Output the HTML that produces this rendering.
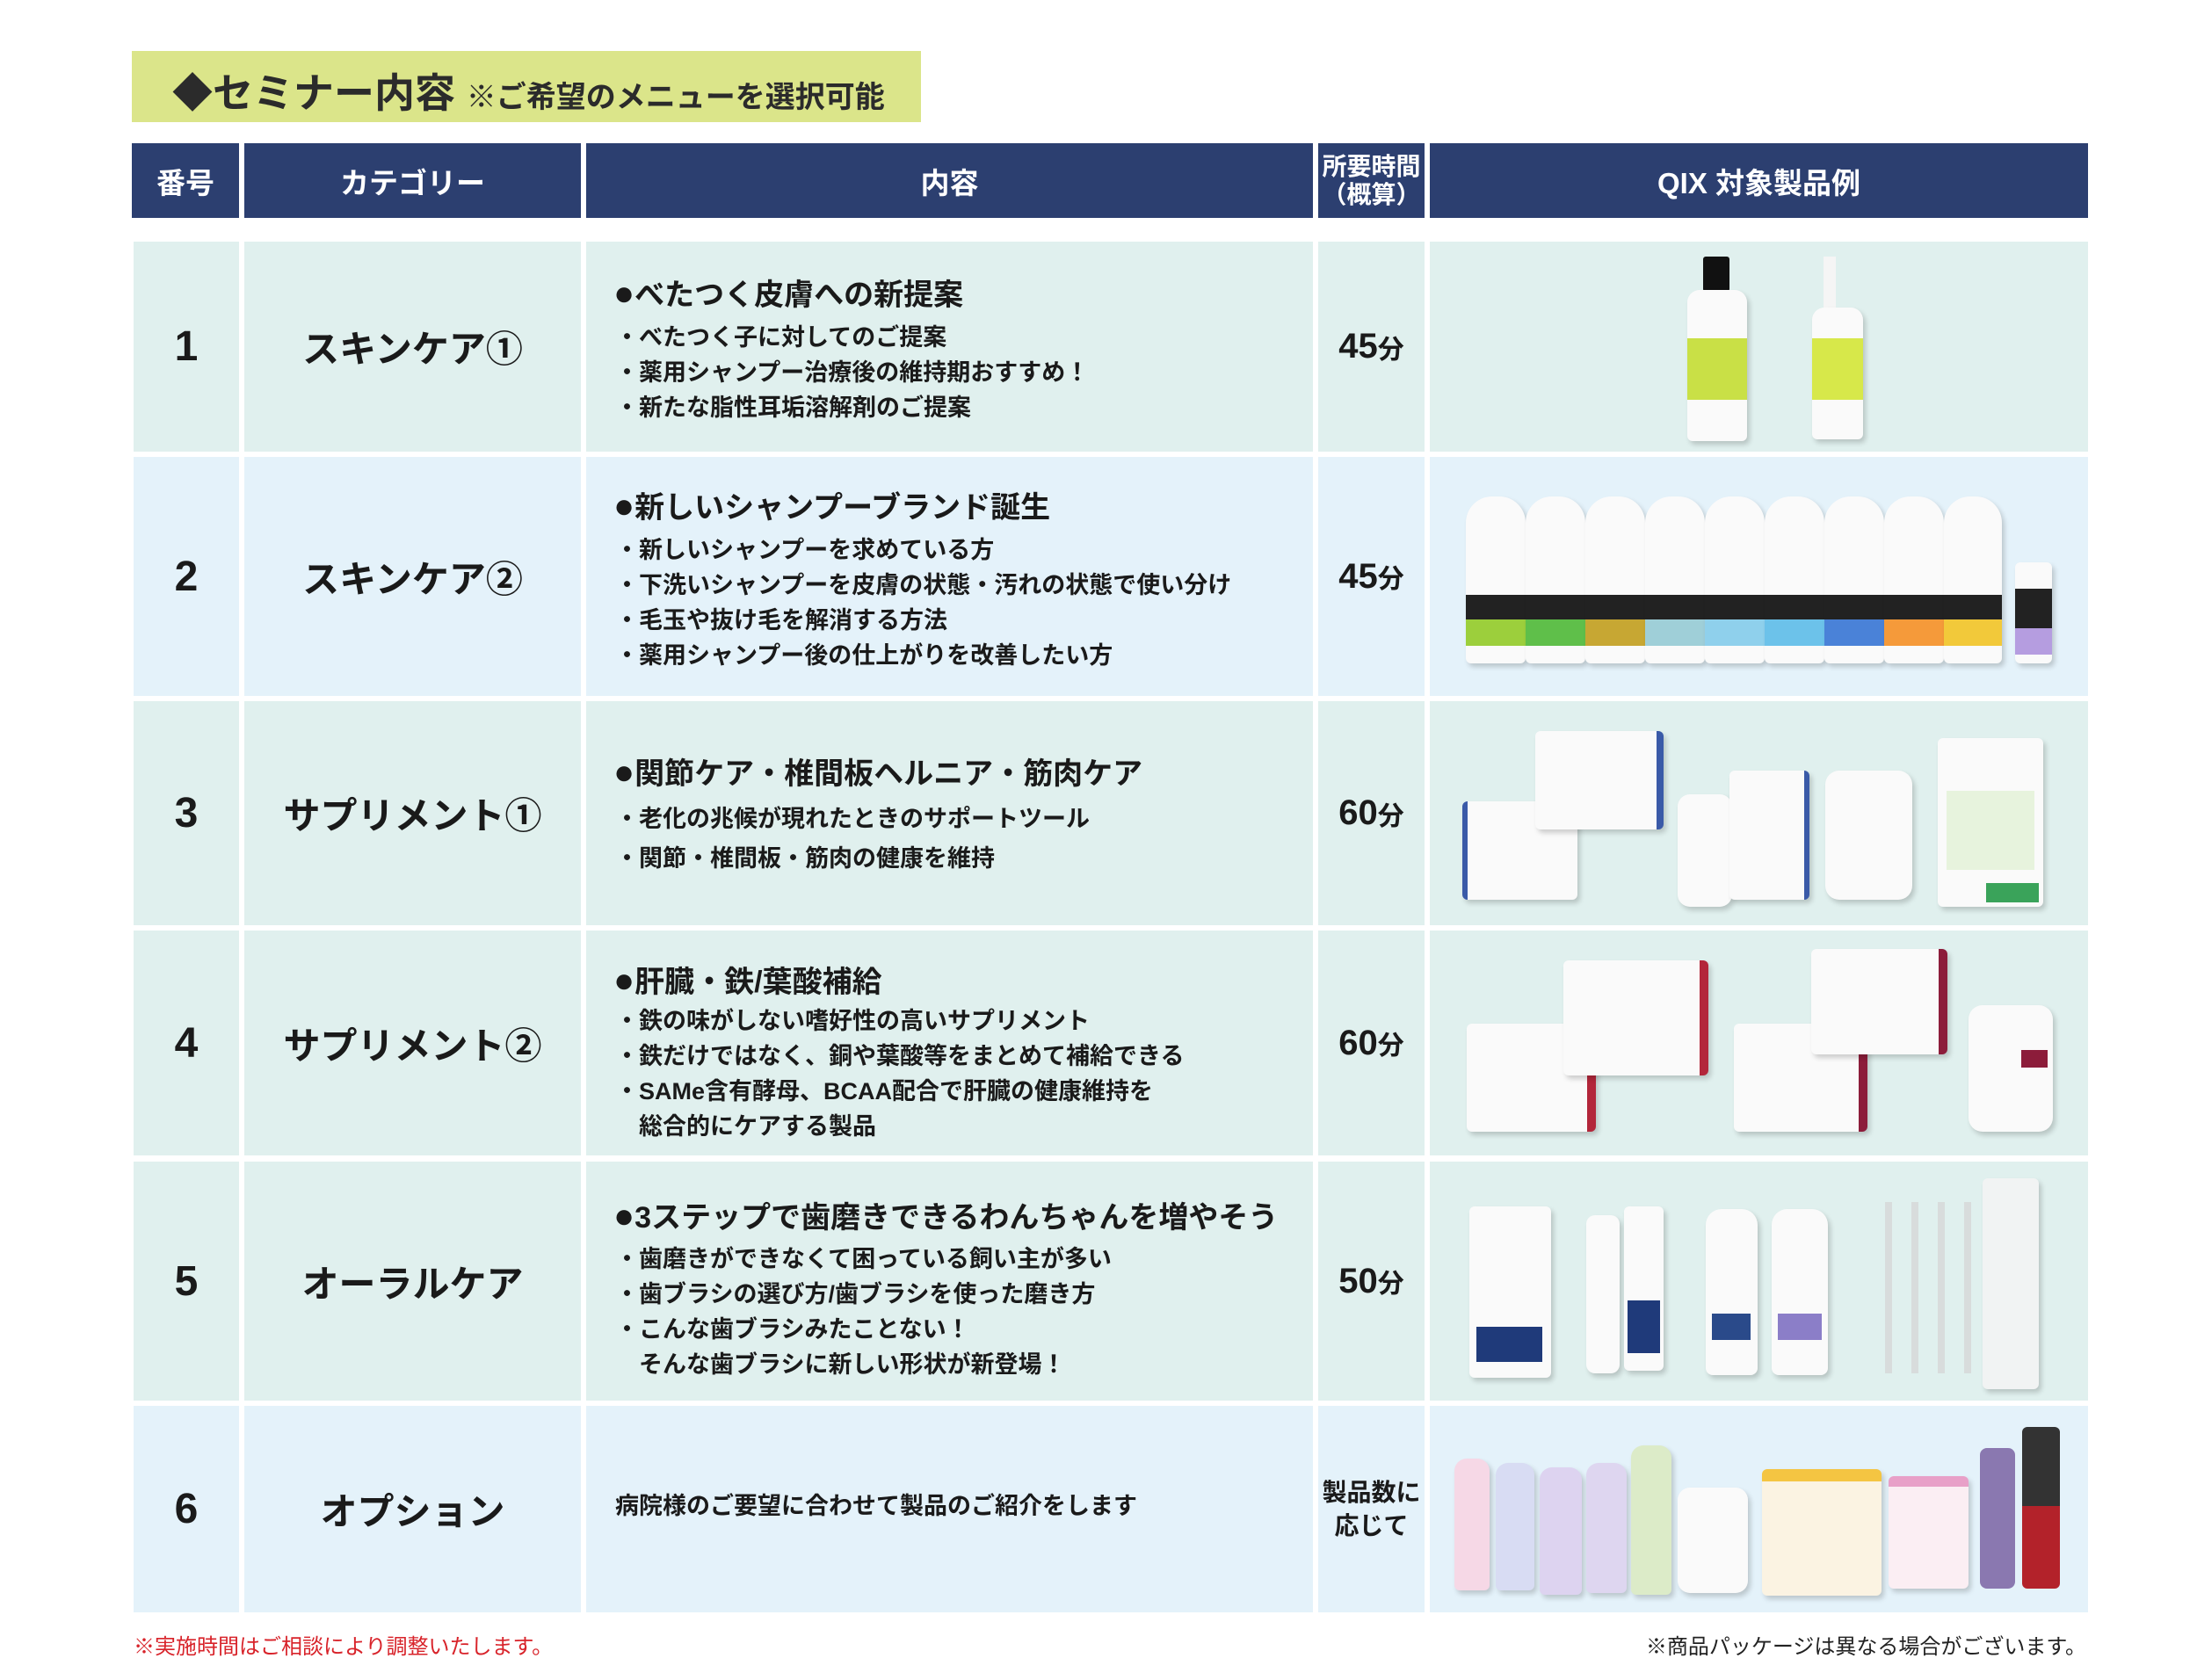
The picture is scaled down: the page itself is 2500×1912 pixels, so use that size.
<!DOCTYPE html>
<html><head><meta charset="utf-8"><style>
*{margin:0;padding:0;box-sizing:border-box}
body{width:2500px;height:1912px;background:#fff;position:relative;overflow:hidden;font-family:"Liberation Sans","Noto Sans CJK JP",sans-serif;color:#1a1a1a}
.a{position:absolute}
.h{background:#2c3f70;color:#fff;font-weight:bold;font-size:33px;display:flex;align-items:center;justify-content:center;text-align:center}
.g{background:#e0f0ee}.b{background:#e4f2fa}
.c{display:flex;align-items:center;justify-content:center;font-weight:bold}
.num{font-size:48px}
.cat{font-size:42px}
.tm{font-size:40px}
.hd{font-size:34px;font-weight:bold;white-space:nowrap}
.hd span{font-size:40px;line-height:34px}
.bl{font-size:27px;font-weight:bold;white-space:nowrap;line-height:40px}
.p{position:absolute;background:#fafafa;box-shadow:3px 4px 6px rgba(0,0,0,.18);border-radius:6px}
</style></head><body>
<div class="a" style="left:150px;top:58px;width:898px;height:81px;background:#dbe58a"></div>
<div class="a" style="left:196px;top:70px;font-size:46px;font-weight:bold;color:#2b2b2b;white-space:nowrap">◆セミナー内容 <span style="font-size:34px">※ご希望のメニューを選択可能</span></div>

<div class="a h" style="left:150px;top:163px;width:122px;height:85px">番号</div>
<div class="a h" style="left:278px;top:163px;width:383px;height:85px">カテゴリー</div>
<div class="a h" style="left:667px;top:163px;width:827px;height:85px">内容</div>
<div class="a h" style="left:1500px;top:163px;width:121px;height:85px;font-size:28px;line-height:32px">所要時間<br>（概算）</div>
<div class="a h" style="left:1627px;top:163px;width:749px;height:85px">QIX 対象製品例</div>

<div class="a g" style="left:152px;top:275px;width:120px;height:239px"></div><div class="a g" style="left:278px;top:275px;width:383px;height:239px"></div><div class="a g" style="left:667px;top:275px;width:827px;height:239px"></div><div class="a g" style="left:1500px;top:275px;width:121px;height:239px"></div><div class="a g" style="left:1627px;top:275px;width:749px;height:239px"></div>
<div class="a b" style="left:152px;top:520px;width:120px;height:272px"></div><div class="a b" style="left:278px;top:520px;width:383px;height:272px"></div><div class="a b" style="left:667px;top:520px;width:827px;height:272px"></div><div class="a b" style="left:1500px;top:520px;width:121px;height:272px"></div><div class="a b" style="left:1627px;top:520px;width:749px;height:272px"></div>
<div class="a g" style="left:152px;top:798px;width:120px;height:255px"></div><div class="a g" style="left:278px;top:798px;width:383px;height:255px"></div><div class="a g" style="left:667px;top:798px;width:827px;height:255px"></div><div class="a g" style="left:1500px;top:798px;width:121px;height:255px"></div><div class="a g" style="left:1627px;top:798px;width:749px;height:255px"></div>
<div class="a g" style="left:152px;top:1059px;width:120px;height:256px"></div><div class="a g" style="left:278px;top:1059px;width:383px;height:256px"></div><div class="a g" style="left:667px;top:1059px;width:827px;height:256px"></div><div class="a g" style="left:1500px;top:1059px;width:121px;height:256px"></div><div class="a g" style="left:1627px;top:1059px;width:749px;height:256px"></div>
<div class="a g" style="left:152px;top:1322px;width:120px;height:272px"></div><div class="a g" style="left:278px;top:1322px;width:383px;height:272px"></div><div class="a g" style="left:667px;top:1322px;width:827px;height:272px"></div><div class="a g" style="left:1500px;top:1322px;width:121px;height:272px"></div><div class="a g" style="left:1627px;top:1322px;width:749px;height:272px"></div>
<div class="a b" style="left:152px;top:1600px;width:120px;height:235px"></div><div class="a b" style="left:278px;top:1600px;width:383px;height:235px"></div><div class="a b" style="left:667px;top:1600px;width:827px;height:235px"></div><div class="a b" style="left:1500px;top:1600px;width:121px;height:235px"></div><div class="a b" style="left:1627px;top:1600px;width:749px;height:235px"></div>

<div class="a c num" style="left:152px;top:275px;width:120px;height:239px">1</div>
<div class="a c cat" style="left:278px;top:275px;width:383px;height:239px">スキンケア①</div>
<div class="a c tm" style="left:1500px;top:275px;width:121px;height:239px">45<span style="font-size:30px">分</span></div>
<div class="a c num" style="left:152px;top:520px;width:120px;height:272px">2</div>
<div class="a c cat" style="left:278px;top:520px;width:383px;height:272px">スキンケア②</div>
<div class="a c tm" style="left:1500px;top:520px;width:121px;height:272px">45<span style="font-size:30px">分</span></div>
<div class="a c num" style="left:152px;top:798px;width:120px;height:255px">3</div>
<div class="a c cat" style="left:278px;top:798px;width:383px;height:255px">サプリメント①</div>
<div class="a c tm" style="left:1500px;top:798px;width:121px;height:255px">60<span style="font-size:30px">分</span></div>
<div class="a c num" style="left:152px;top:1059px;width:120px;height:256px">4</div>
<div class="a c cat" style="left:278px;top:1059px;width:383px;height:256px">サプリメント②</div>
<div class="a c tm" style="left:1500px;top:1059px;width:121px;height:256px">60<span style="font-size:30px">分</span></div>
<div class="a c num" style="left:152px;top:1322px;width:120px;height:272px">5</div>
<div class="a c cat" style="left:278px;top:1322px;width:383px;height:272px">オーラルケア</div>
<div class="a c tm" style="left:1500px;top:1322px;width:121px;height:272px">50<span style="font-size:30px">分</span></div>
<div class="a c num" style="left:152px;top:1600px;width:120px;height:235px">6</div>
<div class="a c cat" style="left:278px;top:1600px;width:383px;height:235px">オプション</div>
<div class="a c" style="left:1500px;top:1600px;width:121px;height:235px;font-size:28px;line-height:38px;text-align:center">製品数に<br>応じて</div>

<div class="a hd" style="left:698px;top:308px"><span>●</span>べたつく皮膚への新提案</div>
<div class="a bl" style="left:700px;top:364px">・べたつく子に対してのご提案<br>・薬用シャンプー治療後の維持期おすすめ！<br>・新たな脂性耳垢溶解剤のご提案</div>
<div class="a hd" style="left:698px;top:550px"><span>●</span>新しいシャンプーブランド誕生</div>
<div class="a bl" style="left:700px;top:606px">・新しいシャンプーを求めている方<br>・下洗いシャンプーを皮膚の状態・汚れの状態で使い分け<br>・毛玉や抜け毛を解消する方法<br>・薬用シャンプー後の仕上がりを改善したい方</div>
<div class="a hd" style="left:698px;top:853px"><span>●</span>関節ケア・椎間板ヘルニア・筋肉ケア</div>
<div class="a bl" style="left:700px;top:910px;line-height:45px">・老化の兆候が現れたときのサポートツール<br>・関節・椎間板・筋肉の健康を維持</div>
<div class="a hd" style="left:698px;top:1090px"><span>●</span>肝臓・鉄/葉酸補給</div>
<div class="a bl" style="left:700px;top:1142px">・鉄の味がしない嗜好性の高いサプリメント<br>・鉄だけではなく、銅や葉酸等をまとめて補給できる<br>・SAMe含有酵母、BCAA配合で肝臓の健康維持を<br>　総合的にケアする製品</div>
<div class="a hd" style="left:698px;top:1358px"><span>●</span>3ステップで歯磨きできるわんちゃんを増やそう</div>
<div class="a bl" style="left:700px;top:1413px">・歯磨きができなくて困っている飼い主が多い<br>・歯ブラシの選び方/歯ブラシを使った磨き方<br>・こんな歯ブラシみたことない！<br>　そんな歯ブラシに新しい形状が新登場！</div>
<div class="a bl" style="left:700px;top:1694px">病院様のご要望に合わせて製品のご紹介をします</div>

<div class="a" style="left:1938px;top:292px;width:30px;height:40px;background:#111;border-radius:3px"></div>
<div class="p" style="left:1920px;top:330px;width:68px;height:172px;border-radius:14px 14px 6px 6px"></div>
<div class="a" style="left:1920px;top:385px;width:68px;height:70px;background:#c9e046"></div>
<div class="a" style="left:2075px;top:292px;width:14px;height:60px;background:#f5f5f5"></div>
<div class="p" style="left:2062px;top:350px;width:58px;height:150px;border-radius:14px 14px 6px 6px"></div>
<div class="a" style="left:2062px;top:385px;width:58px;height:70px;background:#d7e84a"></div>

<div class="a" style="left:1668px;top:565px;width:610px;height:190px">
<div class="p" style="left:0;top:0;width:68px;height:190px;border-radius:30px 30px 6px 6px"></div><div class="a" style="left:0;top:112px;width:68px;height:28px;background:#222"></div><div class="a" style="left:0;top:140px;width:68px;height:30px;background:#9ccf3c"></div>
<div class="p" style="left:68px;top:0;width:68px;height:190px;border-radius:30px 30px 6px 6px"></div><div class="a" style="left:68px;top:112px;width:68px;height:28px;background:#222"></div><div class="a" style="left:68px;top:140px;width:68px;height:30px;background:#5fbf4a"></div>
<div class="p" style="left:136px;top:0;width:68px;height:190px;border-radius:30px 30px 6px 6px"></div><div class="a" style="left:136px;top:112px;width:68px;height:28px;background:#222"></div><div class="a" style="left:136px;top:140px;width:68px;height:30px;background:#c7a733"></div>
<div class="p" style="left:204px;top:0;width:68px;height:190px;border-radius:30px 30px 6px 6px"></div><div class="a" style="left:204px;top:112px;width:68px;height:28px;background:#222"></div><div class="a" style="left:204px;top:140px;width:68px;height:30px;background:#9fcfd8"></div>
<div class="p" style="left:272px;top:0;width:68px;height:190px;border-radius:30px 30px 6px 6px"></div><div class="a" style="left:272px;top:112px;width:68px;height:28px;background:#222"></div><div class="a" style="left:272px;top:140px;width:68px;height:30px;background:#8fd0ec"></div>
<div class="p" style="left:340px;top:0;width:68px;height:190px;border-radius:30px 30px 6px 6px"></div><div class="a" style="left:340px;top:112px;width:68px;height:28px;background:#222"></div><div class="a" style="left:340px;top:140px;width:68px;height:30px;background:#6cc2ea"></div>
<div class="p" style="left:408px;top:0;width:68px;height:190px;border-radius:30px 30px 6px 6px"></div><div class="a" style="left:408px;top:112px;width:68px;height:28px;background:#222"></div><div class="a" style="left:408px;top:140px;width:68px;height:30px;background:#4a82d8"></div>
<div class="p" style="left:476px;top:0;width:68px;height:190px;border-radius:30px 30px 6px 6px"></div><div class="a" style="left:476px;top:112px;width:68px;height:28px;background:#222"></div><div class="a" style="left:476px;top:140px;width:68px;height:30px;background:#f59a3a"></div>
<div class="p" style="left:544px;top:0;width:66px;height:190px;border-radius:30px 30px 6px 6px"></div><div class="a" style="left:544px;top:112px;width:66px;height:28px;background:#222"></div><div class="a" style="left:544px;top:140px;width:66px;height:30px;background:#f2c93a"></div>
</div>
<div class="p" style="left:2293px;top:640px;width:42px;height:115px"></div>
<div class="a" style="left:2293px;top:670px;width:42px;height:45px;background:#222"></div>
<div class="a" style="left:2293px;top:715px;width:42px;height:30px;background:#b59de0"></div>

<div class="p" style="left:1664px;top:912px;width:131px;height:112px;border-left:6px solid #3a5aa8"></div>
<div class="p" style="left:1747px;top:832px;width:146px;height:112px;border-right:8px solid #3a5aa8"></div>
<div class="p" style="left:1909px;top:904px;width:62px;height:128px;border-radius:14px"></div>
<div class="p" style="left:1968px;top:877px;width:91px;height:147px;border-right:6px solid #3a5aa8"></div>
<div class="p" style="left:2077px;top:877px;width:99px;height:147px;border-radius:16px"></div>
<div class="p" style="left:2205px;top:840px;width:120px;height:192px"></div>
<div class="a" style="left:2215px;top:900px;width:100px;height:90px;background:#e7f3dd"></div>
<div class="a" style="left:2260px;top:1005px;width:60px;height:22px;background:#3aa35a"></div>

<div class="p" style="left:1669px;top:1165px;width:147px;height:123px;border-right:10px solid #b3263a"></div>
<div class="p" style="left:1779px;top:1093px;width:165px;height:131px;border-right:10px solid #b3263a"></div>
<div class="p" style="left:1973px;top:1165px;width:152px;height:123px;border-right:10px solid #8c1c3a"></div>
<div class="p" style="left:2061px;top:1080px;width:155px;height:120px;border-right:10px solid #8c1c3a"></div>
<div class="p" style="left:2240px;top:1144px;width:96px;height:144px;border-radius:16px"></div>
<div class="a" style="left:2300px;top:1195px;width:30px;height:20px;background:#8c1c3a"></div>

<div class="p" style="left:1672px;top:1373px;width:93px;height:195px"></div>
<div class="a" style="left:1680px;top:1510px;width:75px;height:40px;background:#1f3a7a"></div>
<div class="p" style="left:1805px;top:1383px;width:38px;height:180px;border-radius:10px"></div>
<div class="p" style="left:1848px;top:1373px;width:45px;height:187px"></div>
<div class="a" style="left:1852px;top:1480px;width:37px;height:60px;background:#1f3a7a"></div>
<div class="p" style="left:1941px;top:1376px;width:59px;height:189px;border-radius:18px 18px 8px 8px"></div>
<div class="a" style="left:1948px;top:1495px;width:44px;height:30px;background:#2a4a8a"></div>
<div class="p" style="left:2016px;top:1376px;width:64px;height:189px;border-radius:18px 18px 8px 8px"></div>
<div class="a" style="left:2023px;top:1495px;width:50px;height:30px;background:#8b7ec8"></div>
<div class="a" style="left:2145px;top:1368px;width:8px;height:195px;background:#d8dcdc"></div>
<div class="a" style="left:2175px;top:1368px;width:8px;height:195px;background:#d8dcdc"></div>
<div class="a" style="left:2205px;top:1368px;width:8px;height:195px;background:#d8dcdc"></div>
<div class="a" style="left:2235px;top:1368px;width:8px;height:195px;background:#d8dcdc"></div>
<div class="p" style="left:2256px;top:1341px;width:64px;height:240px;background:#f1f3f3"></div>

<div class="p" style="left:1655px;top:1660px;width:40px;height:150px;background:#f6d8e6;border-radius:14px 14px 6px 6px"></div>
<div class="p" style="left:1702px;top:1665px;width:44px;height:145px;background:#d8dcf3;border-radius:14px 14px 6px 6px"></div>
<div class="p" style="left:1752px;top:1670px;width:48px;height:145px;background:#ddd3f0;border-radius:14px 14px 6px 6px"></div>
<div class="p" style="left:1805px;top:1665px;width:46px;height:148px;background:#ded6f0;border-radius:14px 14px 6px 6px"></div>
<div class="p" style="left:1856px;top:1645px;width:46px;height:170px;background:#dcebc8;border-radius:14px 14px 6px 6px"></div>
<div class="p" style="left:1909px;top:1693px;width:80px;height:120px;border-radius:14px"></div>
<div class="p" style="left:2005px;top:1672px;width:136px;height:144px;background:#fbf3e2;border-top:14px solid #f4c542"></div>
<div class="p" style="left:2149px;top:1680px;width:91px;height:128px;background:#fbeef3;border-top:12px solid #e8a0c8"></div>
<div class="a" style="left:2253px;top:1648px;width:40px;height:160px;background:#8a78b0;border-radius:8px"></div>
<div class="a" style="left:2301px;top:1624px;width:43px;height:90px;background:#333;border-radius:6px 6px 0 0"></div>
<div class="a" style="left:2301px;top:1714px;width:43px;height:94px;background:#b3222a;border-radius:0 0 6px 6px"></div>

<div class="a" style="left:152px;top:1854px;font-size:24px;color:#d8232a;white-space:nowrap">※実施時間はご相談により調整いたします。</div>
<div class="a" style="left:1796px;top:1854px;font-size:24px;color:#222;white-space:nowrap;width:578px;text-align:right">※商品パッケージは異なる場合がございます。</div>
</body></html>
